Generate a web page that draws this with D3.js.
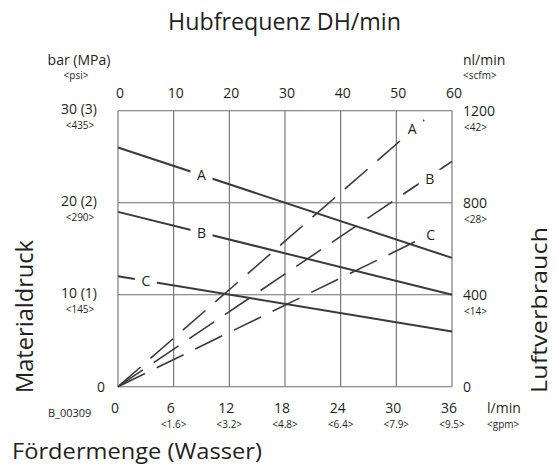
<!DOCTYPE html>
<html>
<head>
<meta charset="utf-8">
<script src="https://cdn.jsdelivr.net/npm/d3@7"></script>
<style>
    body { margin: 0; background: #fff; }
    svg text { font-family: "Open Sans", "Noto Sans", sans-serif; fill: #231f20; }
</style>
</head>
<body>
<div id="chart"></div>
<script>

// flow (l/min) and the gpm equivalents
const flowTicks = [0, 6, 12, 18, 24, 30, 36];
const gpmTicks = ["", "<1.6>", "<3.2>", "<4.8>", "<6.4>", "<7.9>", "<9.5>"];
// stroke frequency on top
const hubTicks = [0, 10, 20, 30, 40, 50, 60];
// material pressure (left)
const pressTicks = [10, 20, 30];
const pressLabels = ["10 (1)", "20 (2)", "30 (3)"];
const psiLabels = ["<145>", "<290>", "<435>"];
// air consumption (right)
const airTicks = [400, 800, 1200];
const scfmLabels = ["<14>", "<28>", "<42>"];

// solid lines: material pressure (bar) at flow 0 and 36
const pressSeries = ["A", "B", "C"];
const pressStart = [26, 19, 12];
const pressEnd = [14, 10, 6];

// dashed lines: air consumption, from origin to end point
const airSeries = ["A", "B", "C"];
const airEndFlow = [33, 36, 32];
const airEndValue = [1160, 980, 630];

const width = 556;
const height = 468;
const margin = {top: 110.7, left: 118, right: 104, bottom: 81.3};

const svg = d3.select("#chart")
    .append("svg")
    .attr("width", width)
    .attr("height", height);

const x = d3.scaleLinear().domain([0, 36]).range([margin.left, width - margin.right]);
const xHub = d3.scaleLinear().domain([0, 60]).range([margin.left, width - margin.right]);
const yP = d3.scaleLinear().domain([0, 30]).range([height - margin.bottom, margin.top]);
const yAir = d3.scaleLinear().domain([0, 1200]).range([height - margin.bottom, margin.top]);

/* GRID */
const grid = svg.append("g").attr("stroke", "#6d6e71").attr("stroke-width", 1.1);

flowTicks.forEach(function(t) {
    grid.append("line")
        .attr("x1", x(t)).attr("x2", x(t))
        .attr("y1", yP(0)).attr("y2", yP(30));
});
[0].concat(pressTicks).forEach(function(t) {
    grid.append("line")
        .attr("x1", x(0)).attr("x2", x(36))
        .attr("y1", yP(t)).attr("y2", yP(t));
});

/* LINES */
const lineColor = "#3a3a3c";

pressSeries.forEach(function(s, i) {
    svg.append("line")
        .attr("x1", x(0)).attr("y1", yP(pressStart[i]))
        .attr("x2", x(36)).attr("y2", yP(pressEnd[i]))
        .attr("stroke", lineColor)
        .attr("stroke-width", 2);
});

airSeries.forEach(function(s, i) {
    svg.append("line")
        .attr("x1", x(0)).attr("y1", yAir(0))
        .attr("x2", x(airEndFlow[i])).attr("y2", yAir(airEndValue[i]))
        .attr("stroke", lineColor)
        .attr("stroke-width", 1.6)
        .attr("stroke-dasharray", "30,13");
});

/* SERIES LABELS (white box breaks the line) */
function seriesLabel(name, cx, cy) {
    svg.append("rect")
        .attr("x", cx - 11).attr("y", cy - 9)
        .attr("width", 22).attr("height", 18)
        .attr("fill", "#fff");
    svg.append("text")
        .attr("x", cx).attr("y", cy + 5)
        .attr("text-anchor", "middle")
        .attr("font-size", 14)
        .text(name);
}

// solid label positions along each line
const pressLabelFlow = [9, 9, 3];
pressSeries.forEach(function(s, i) {
    const f = pressLabelFlow[i];
    const v = pressStart[i] + (pressEnd[i] - pressStart[i]) * f / 36;
    seriesLabel(s, x(f), yP(v));
});

// dashed labels near line ends
const airLabelFlow = [31.7, 33.6, 33.7];
const airLabelValue = [1120, 905, 660];
airSeries.forEach(function(s, i) {
    seriesLabel(s, x(airLabelFlow[i]), yAir(airLabelValue[i]));
});

/* AXIS TEXT */
const topAxis = svg.append("g").attr("font-size", 14).attr("text-anchor", "middle");
hubTicks.forEach(function(t) {
    topAxis.append("text").attr("x", xHub(t) + 2).attr("y", 98).text(t);
});

const bottomAxis = svg.append("g").attr("text-anchor", "middle");
flowTicks.forEach(function(t, i) {
    bottomAxis.append("text").attr("x", x(t) - 3).attr("y", 413).attr("font-size", 14).text(t);
    bottomAxis.append("text").attr("x", x(t)).attr("y", 428).attr("font-size", 10).text(gpmTicks[i]);
});

const leftAxis = svg.append("g").attr("text-anchor", "middle");
pressTicks.forEach(function(t, i) {
    leftAxis.append("text").attr("x", 79).attr("y", yP(t) + 3).attr("font-size", 14).text(pressLabels[i]);
    leftAxis.append("text").attr("x", 80).attr("y", yP(t) + 18).attr("font-size", 10).text(psiLabels[i]);
});
leftAxis.append("text").attr("x", 101).attr("y", yP(0) + 5).attr("font-size", 14).text("0");

const rightAxis = svg.append("g");
airTicks.forEach(function(t, i) {
    rightAxis.append("text").attr("x", 463).attr("y", yAir(t) + 5).attr("font-size", 14).text(t);
    rightAxis.append("text").attr("x", 464).attr("y", yAir(t) + 20).attr("font-size", 10).text(scfmLabels[i]);
});
rightAxis.append("text").attr("x", 463).attr("y", yAir(0) + 5).attr("font-size", 14).text("0");

/* UNIT LABELS */
svg.append("text").attr("x", 79).attr("y", 65).attr("text-anchor", "middle").attr("font-size", 14).text("bar (MPa)");
svg.append("text").attr("x", 76).attr("y", 79).attr("text-anchor", "middle").attr("font-size", 10).text("<psi>");
svg.append("text").attr("x", 463).attr("y", 65).attr("font-size", 14).text("nl/min");
svg.append("text").attr("x", 463).attr("y", 79).attr("font-size", 10).text("<scfm>");
svg.append("text").attr("x", 487).attr("y", 413).attr("font-size", 14).text("l/min");
svg.append("text").attr("x", 487).attr("y", 428).attr("font-size", 10).text("<gpm>");
svg.append("text").attr("x", 48).attr("y", 417).attr("font-size", 11).text("B_00309");

/* TITLES */
svg.append("text")
    .attr("x", 168).attr("y", 29.5)
    .attr("font-size", 24)
    .attr("textLength", 233).attr("lengthAdjust", "spacingAndGlyphs")
    .text("Hubfrequenz DH/min");

svg.append("text")
    .attr("x", 12).attr("y", 459)
    .attr("font-size", 22)
    .attr("textLength", 250).attr("lengthAdjust", "spacingAndGlyphs")
    .text("Fördermenge (Wasser)");

svg.append("text")
    .attr("transform", "translate(33,393) rotate(-90)")
    .attr("font-size", 23)
    .attr("textLength", 153).attr("lengthAdjust", "spacingAndGlyphs")
    .text("Materialdruck");

svg.append("text")
    .attr("transform", "translate(547,393) rotate(-90)")
    .attr("font-size", 22)
    .attr("textLength", 166).attr("lengthAdjust", "spacingAndGlyphs")
    .text("Luftverbrauch");

</script>
</body>
</html>
